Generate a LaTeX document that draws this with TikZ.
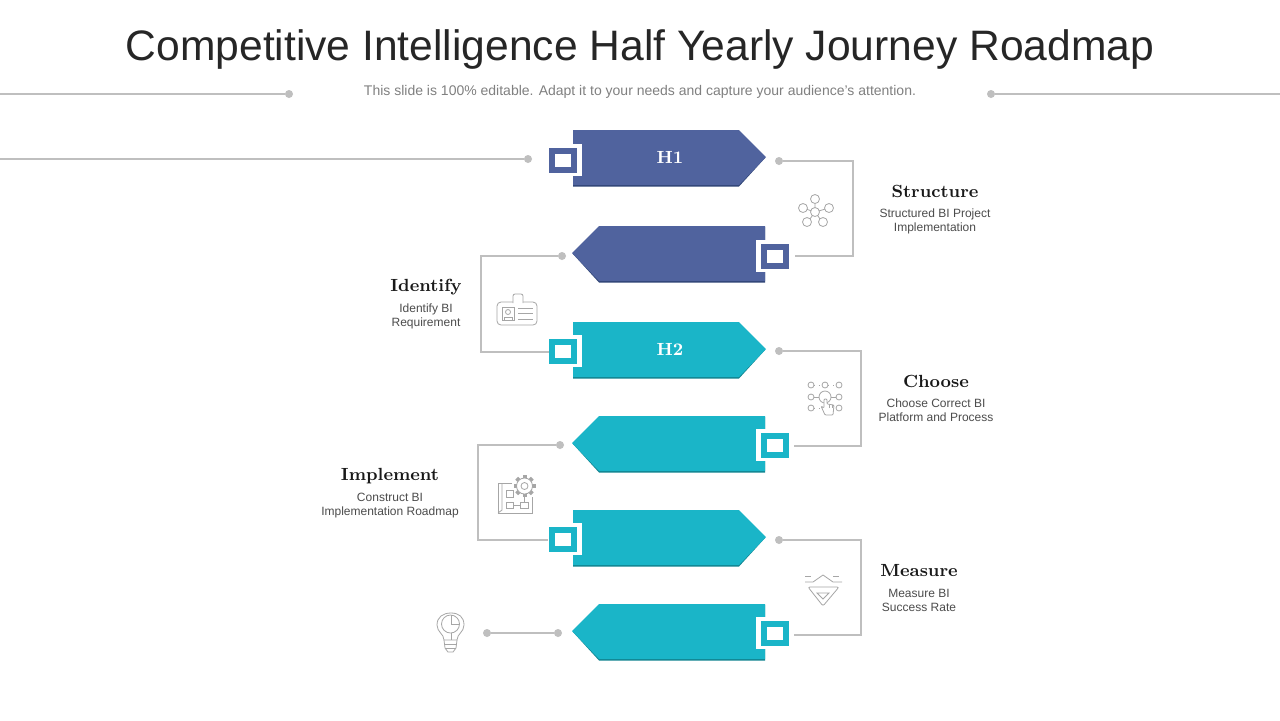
\documentclass[tikz,border=0pt]{standalone}
\usepackage{fontspec}
\setsansfont{Liberation Sans}
\definecolor{bluepart}{HTML}{50639E}
\definecolor{blueedge}{HTML}{2F4475}
\definecolor{tealpart}{HTML}{1AB5C8}
\definecolor{tealedge}{HTML}{10838F}
\definecolor{linegray}{HTML}{BFBFBF}
\definecolor{icongray}{HTML}{A6A6A6}
\tikzset{
    conn/.style={draw=linegray,line width=0.8pt},
    dot/.style={circle,fill=linegray,inner sep=0pt,minimum size=4pt},
    sqbox/.style={rectangle,fill=white,line width=3pt,inner sep=0pt,minimum width=11pt,minimum height=9.5pt},
    icon/.style={draw=icongray,line width=0.4pt},
    head/.style={font=\rmfamily\bfseries\fontsize{8.8}{11}\selectfont,text=black!90},
    desc/.style={font=\sffamily\fontsize{6}{7}\selectfont,text=black!70,align=center},
    halfname/.style={font=\rmfamily\bfseries\fontsize{8.8}{11}\selectfont,text=white}
}
\begin{document}
\begin{tikzpicture}[x=0.5pt,y=-0.5pt]
        \useasboundingbox[fill=white](0,0)rectangle(1280,720);
        \node[font=\sffamily\fontsize{21.3}{26}\selectfont,text=black!85](title)at(640,49){Competitive Intelligence Half Yearly Journey Roadmap};
        \node[font=\sffamily\fontsize{7}{9}\selectfont,text=black!50](subtitle)at(640,92){This slide is 100\% editable. Adapt it to your needs and capture your audience's attention.};
        \coordinate(leftedge)at(0,94);
        \coordinate(rightedge)at(1280,94);
        \coordinate(topedge)at(0,159);
        \node[dot](dotleft)at(289,94){};
        \node[dot](dotright)at(991,94){};
        \draw[conn](leftedge)--(dotleft);
        \draw[conn](dotright)--(rightedge);
        % right pointing parts
        \fill[blueedge](573,131)--(739,131)--(765,158)--(739,186.5)--(573,186.5)--cycle;
        \fill[bluepart](573,130)--(739,130)--(766,157)--(739,185)--(573,185)--cycle;
        \fill[tealedge](573,323)--(739,323)--(765,350)--(739,378.5)--(573,378.5)--cycle;
        \fill[tealpart](573,322)--(739,322)--(766,349)--(739,377)--(573,377)--cycle;
        \fill[tealedge](573,511)--(739,511)--(765,538)--(739,566.5)--(573,566.5)--cycle;
        \fill[tealpart](573,510)--(739,510)--(766,537)--(739,565)--(573,565)--cycle;
        % left pointing parts
        \fill[blueedge](765,227)--(599,227)--(573,254)--(599,282.5)--(765,282.5)--cycle;
        \fill[bluepart](765,226)--(599,226)--(572,253)--(599,281)--(765,281)--cycle;
        \fill[tealedge](765,417)--(599,417)--(573,444)--(599,472.5)--(765,472.5)--cycle;
        \fill[tealpart](765,416)--(599,416)--(572,443)--(599,471)--(765,471)--cycle;
        \fill[tealedge](765,605)--(599,605)--(573,632)--(599,660.5)--(765,660.5)--cycle;
        \fill[tealpart](765,604)--(599,604)--(572,631)--(599,659)--(765,659)--cycle;
        % white frames
        \fill[white](573,144)rectangle(582,176);
        \fill[white](756,240)rectangle(766,272);
        \fill[white](573,335)rectangle(582,367);
        \fill[white](756,429)rectangle(766,461);
        \fill[white](573,523)rectangle(582,555);
        \fill[white](756,617)rectangle(766,649);
        \node[sqbox,draw=bluepart](box1)at(563,160){};
        \node[sqbox,draw=bluepart](box2)at(775,256){};
        \node[sqbox,draw=tealpart](box3)at(563,351){};
        \node[sqbox,draw=tealpart](box4)at(775,445){};
        \node[sqbox,draw=tealpart](box5)at(563,539){};
        \node[sqbox,draw=tealpart](box6)at(775,633){};
        \node[halfname](h1)at(670,157){H1};
        \node[halfname](h2)at(670,349){H2};
        % connectors
        \node[dot](dot1)at(528,159){};
        \draw[conn](topedge)--(dot1);
        \node[dot](dot2)at(779,161){};
        \coordinate(end2)at(795,256);
        \coordinate(turn2)at(853,161);
        \draw[conn](dot2)--(turn2)--(turn2|-end2)--(end2);
        \node[dot](dot3)at(562,256){};
        \coordinate(end3)at(549,352);
        \coordinate(turn3)at(481,256);
        \draw[conn](dot3)--(turn3)--(turn3|-end3)--(end3);
        \node[dot](dot4)at(779,351){};
        \coordinate(end4)at(794,446);
        \coordinate(turn4)at(861,351);
        \draw[conn](dot4)--(turn4)--(turn4|-end4)--(end4);
        \node[dot](dot5)at(560,445){};
        \coordinate(end5)at(548,540);
        \coordinate(turn5)at(478,445);
        \draw[conn](dot5)--(turn5)--(turn5|-end5)--(end5);
        \node[dot](dot6)at(779,540){};
        \coordinate(end6)at(794,635);
        \coordinate(turn6)at(861,540);
        \draw[conn](dot6)--(turn6)--(turn6|-end6)--(end6);
        \node[dot](dot7)at(487,633){};
        \node[dot](dot8)at(558,633){};
        \draw[conn](dot7)--(dot8);
        % labels
        \node[head](structure)at(935,191){Structure};
        \node[desc](structuretext)at(935,221){Structured BI Project\\Implementation};
        \node[head](identify)at(426,287){Identify};
        \node[desc](identifytext)at(426,316){Identify BI\\Requirement};
        \node[head](choose)at(936,381){Choose};
        \node[desc](choosetext)at(936,410){Choose Correct BI\\Platform and Process};
        \node[head](implement)at(390,476){Implement};
        \node[desc](implementtext)at(390,506){Construct BI\\Implementation Roadmap};
        \node[head](measure)at(919,570){Measure};
        \node[desc](measuretext)at(919,600){Measure BI\\Success Rate};
        % network icon
        \draw[icon](815,212)--(815,198)(815,212)--(803,208)(815,212)--(829,208)(815,212)--(807,223)(815,212)--(823,223);
        \foreach \p in {(815,212),(815,199),(803,208),(829,208),(807,222),(823,222)}
            \draw[icon,fill=white]\p circle(4.5);
        % badge icon
        \draw[icon,rounded corners=2pt](497,302)rectangle(537,325);
        \draw[icon,fill=white,rounded corners=1pt](513,303)--(513,294)--(523,294)--(523,303);
        \draw[icon](502,307)rectangle(514,320);
        \draw[icon](508,312)circle(2.5);
        \draw[icon](504,320)--(504,317)--(512,317)--(512,320);
        \draw[icon](518,308)--(533,308)(518,313)--(533,313)(518,319)--(533,319);
        % grid and hand icon
        \draw[icon,dotted](814,385)--(836,385)(814,408)--(836,408);
        \draw[icon](814,397)--(836,397);
        \foreach \p in {(811,385),(825,385),(839,385),(811,397),(839,397),(811,408),(839,408)}
            \draw[icon,fill=white]\p circle(3);
        \draw[icon,fill=white](825,397)circle(6);
        \draw[icon,fill=white,rounded corners=0.5pt](824,399)--(824,408)--(821,406)--(825,415)--(833,415)--(834,405)--(827,404)--(827,399)--cycle;
        \draw[icon](829.5,404.5)--(829.5,408)(832,405)--(832,408);
        % plan and gear icon
        \draw[icon](512,483)--(498,483)--(498,513)--(532,513)--(532,497);
        \draw[icon](502,483)--(502,510)--(498,513);
        \draw[icon](506,490)rectangle(513,497);
        \draw[icon](506,502)rectangle(513,508);
        \draw[icon](520,502)rectangle(528,508);
        \draw[icon](513,505)--(520,505)(524,502)--(524,497);
        \foreach \a in {0,45,...,315}
            \fill[icongray,rotate around={\a:(524.5,486)}](522.5,475)rectangle(526.5,480);
        \draw[icon,fill=white](524.5,486)circle(8);
        \draw[icon](524.5,486)circle(3.5);
        % ruler icon
        \draw[icon,rounded corners=1pt](808,587)--(839,587)--(823,606)--cycle;
        \draw[icon](817,593)--(829,593)--(823,599)--cycle;
        \draw[icon](805,582)--(813,582)--(823,575)--(833,582)--(842,582);
        \draw[icon,dashed](805,576)--(813,576)(833,576)--(842,576);
        % bulb icon
        \draw[icon](444,640)..controls(444,634)and(437,632)..(437,625)..controls(437,617)and(443,613)..(451,613)..controls(459,613)and(464,617)..(464,625)..controls(464,632)and(457,634)..(457,640)--cycle;
        \draw[icon](450.5,624)circle(9);
        \draw[icon](451,615)--(451,624)--(459,624);
        \draw[icon](451,633)--(451,640);
        \draw[icon](445,644)--(456,644)(445,648)--(456,648);
        \draw[icon](444,640)--(445,648)--(448,652)--(453,652)--(456,648)--(457,640);
\end{tikzpicture}
\end{document}
